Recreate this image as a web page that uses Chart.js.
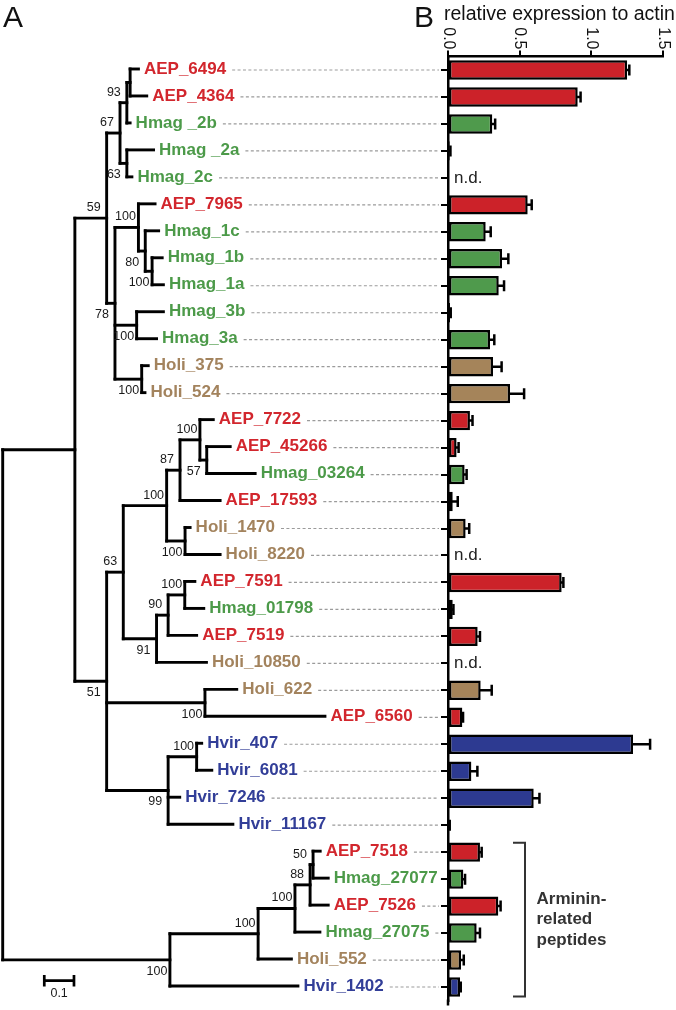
<!DOCTYPE html>
<html><head><meta charset="utf-8">
<script src="https://cdn.jsdelivr.net/npm/chart.js@4.4.1/dist/chart.umd.min.js"></script>
<style>
html,body{margin:0;padding:0;background:#fff;}
#wrap{position:relative;width:676px;height:1010px;overflow:hidden;background:#fff;}
canvas{position:absolute;top:0;}
#tree{left:0;}
#bars{left:400px;}
</style></head><body>
<div id="wrap"><canvas id="tree" width="448" height="1010"></canvas><canvas id="bars" width="276" height="1010"></canvas></div>
<script>
// ---------- DATA ----------
const genes = ["AEP_6494","AEP_4364","Hmag _2b","Hmag _2a","Hmag_2c","AEP_7965","Hmag_1c","Hmag_1b","Hmag_1a",
  "Hmag_3b","Hmag_3a","Holi_375","Holi_524","AEP_7722","AEP_45266","Hmag_03264","AEP_17593","Holi_1470",
  "Holi_8220","AEP_7591","Hmag_01798","AEP_7519","Holi_10850","Holi_622","AEP_6560","Hvir_407","Hvir_6081",
  "Hvir_7246","Hvir_11167","AEP_7518","Hmag_27077","AEP_7526","Hmag_27075","Holi_552","Hvir_1402"];
const expression = [1.25,0.905,0.309,0.012,null,0.556,0.263,0.377,0.354,0.014,0.293,0.314,0.433,0.153,0.06,0.116,0.033,0.123,
  null,0.793,0.033,0.207,null,0.228,0.1,1.291,0.163,0.598,0.008,0.223,0.107,0.351,0.2,0.091,0.084];
const expressionErr = [0.015,0.02,0.02,0.005,null,0.028,0.035,0.044,0.037,0.005,0.03,0.06,0.098,0.018,0.014,0.014,0.035,0.025,
  null,0.012,0.005,0.016,null,0.077,0.005,0.119,0.042,0.04,0.004,0.012,0.012,0.016,0.023,0.019,0.005];
const xTicks = [0, 0.5, 1.0, 1.5];
const scaleBarLength = 0.1;
const bracketGenes = ["AEP_7518","Hvir_1402"];
const bracketText = ["Arminin-","related","peptides"];
// phylogeny (Newick, branch lengths, bootstrap values)
const treeNewick = `(
 (
  (
   (
    (
     (AEP_6494:0.028, AEP_4364:0.056):0.011,
     Hmag _2b:0.011
    )93:0.023,
    (Hmag _2a:0.090, Hmag_2c:0.017)63:0.023
   )67:0.045,
   (
    (AEP_7965:0.056,
     (Hmag_1c:0.045,
      (Hmag_1b:0.034, Hmag_1a:0.038)100:0.023
     )80:0.023
    )100:0.079,
    (Hmag_3b:0.090, Hmag_3a:0.067)100:0.073,
    (Holi_375:0.022, Holi_524:0.011)100:0.090
   )78:0.028
  )59:0.107,
  (
   (
    (
     (
      (AEP_7722:0.045,
       (AEP_45266:0.079, Hmag_03264:0.163)57:0.023
      )100:0.067,
      AEP_17593:0.135
     )87:0.045,
     (Holi_1470:0.017, Holi_8220:0.118)100:0.062
    )100:0.146,
    (
     (
      (AEP_7591:0.034, Hmag_01798:0.064)100:0.056,
      AEP_7519:0.096
     )90:0.039,
     Holi_10850:0.168
    )91:0.112
   )63:0.056,
   (Holi_622:0.107, AEP_6560:0.404)100:0.331,
   (
    (Hvir_407:0.017, Hvir_6081:0.051)100:0.096,
    Hvir_7246:0.039,
    Hvir_11167:0.218
   )99:0.207
  )51:0.107
 ):0.243,
 (
  (
   (
    (
     (AEP_7518:0.024, Hmag_27077:0.051)50:0.010,
     AEP_7526:0.061
    )88:0.051,
    Hmag_27075:0.084
   )100:0.124,
   Holi_552:0.112
  )100:0.297,
  Hvir_1402:0.431
 )100:0.563
);`;

// ---------- STYLE ----------
const FONT = '"Liberation Sans", Arial, Helvetica, sans-serif';
Chart.defaults.font.family = FONT;
const barColors = {AEP:'#cc2229', Hmag:'#4f9a4c', Holi:'#a5845a', Hvir:'#2d3a91'};
const textColors = {AEP:'#d2262d', Hmag:'#4c9a49', Holi:'#a3835d', Hvir:'#323e98'};
const prefix = n => n.split('_')[0].trim();

// ---------- TREE PARSE / LAYOUT ----------
function parseNewick(s){
  let i = 0;
  const ws = () => { while (i < s.length && /\s/.test(s[i])) i++; };
  function node(){
    const n = {children: []};
    ws();
    if (s[i] === '('){
      i++;
      do { n.children.push(node()); ws(); } while (s[i++] === ',');
    }
    let lab = '';
    while (i < s.length && !':,);'.includes(s[i])) lab += s[i++];
    n.label = lab.trim();
    n.len = 0;
    if (s[i] === ':'){
      i++; let num = '';
      while (i < s.length && !',);'.includes(s[i])) num += s[i++];
      n.len = parseFloat(num);
    }
    return n;
  }
  return node();
}
const root = parseNewick(treeNewick);
const leaves = [], internals = [], allNodes = [];
let leafCounter = 0;
(function layout(n, parent, isFirst){
  n.parent = parent; n.first = isFirst;
  n.d = parent ? parent.d + n.len : 0;
  allNodes.push(n);
  if (n.children.length){
    n.children.forEach((c, k) => layout(c, n, k === 0));
    n.row = (n.children[0].row + n.children[n.children.length - 1].row) / 2;
    internals.push(n);
  } else {
    n.row = leafCounter++;
    leaves.push(n);
  }
})(root, null, true);

const lineStyle = {showLine: true, borderColor: '#000', borderWidth: 2.9, pointRadius: 0, fill: false,
  borderJoinStyle: 'miter', borderCapStyle: 'square', tension: 0, clip: false};
const treeDatasets = [
  // vertical connector of each internal node
  ...internals.map(n => Object.assign({
    data: [{x: n.d, y: n.children[0].row}, {x: n.d, y: n.children[n.children.length - 1].row}]
  }, lineStyle)),
  // elbow branch to each node
  ...allNodes.filter(n => n.parent).map(n => Object.assign({
    data: [{x: n.parent.d, y: n.row}, {x: n.d, y: n.row}]
  }, lineStyle))
];

const treePlugin = {
  id: 'treeLabels',
  afterDatasetsDraw(chart){
    const ctx = chart.ctx, xs = chart.scales.x, ys = chart.scales.y;
    ctx.save();
    // leaf labels + leaders
    leaves.forEach(l => {
      const px = xs.getPixelForValue(l.d) + 5.5, py = ys.getPixelForValue(l.row);
      ctx.font = 'bold 17px ' + FONT;
      ctx.fillStyle = textColors[prefix(l.label)];
      ctx.textAlign = 'left'; ctx.textBaseline = 'middle';
      ctx.fillText(l.label, px, py);
      const w = ctx.measureText(l.label).width;
      ctx.beginPath();
      ctx.setLineDash([3, 2.4]);
      ctx.strokeStyle = '#9b9b9b'; ctx.lineWidth = 1.2;
      ctx.moveTo(px + w + 6, py + 1); ctx.lineTo(chart.width - 9, py + 1);
      ctx.stroke();
      ctx.setLineDash([]);
    });
    // bootstrap values
    ctx.font = '12.5px ' + FONT; ctx.fillStyle = '#1a1a1a'; ctx.textAlign = 'center'; ctx.textBaseline = 'middle';
    internals.forEach(n => {
      if (!n.label) return;
      const px = xs.getPixelForValue(n.d) - 13, py = ys.getPixelForValue(n.row) + (n.first ? -10.5 : 11.5);
      ctx.fillText(n.label, px, py);
    });
    // scale bar
    const x0 = xs.getPixelForValue(0.14), x1 = xs.getPixelForValue(0.14 + scaleBarLength), sy = 980.7;
    ctx.strokeStyle = '#000'; ctx.lineWidth = 2.7;
    ctx.beginPath();
    ctx.moveTo(x0, sy); ctx.lineTo(x1, sy);
    ctx.moveTo(x0, sy - 5.8); ctx.lineTo(x0, sy + 5.8);
    ctx.moveTo(x1, sy - 5.8); ctx.lineTo(x1, sy + 5.8);
    ctx.stroke();
    ctx.fillStyle = '#1a1a1a'; ctx.font = '12.5px ' + FONT; ctx.textAlign = 'center';
    ctx.fillText(String(scaleBarLength), (x0 + x1) / 2, 994);
    // panel letter
    ctx.font = '30px ' + FONT; ctx.textAlign = 'left'; ctx.textBaseline = 'alphabetic'; ctx.fillStyle = '#111';
    ctx.fillText('A', 3, 27);
    ctx.restore();
  }
};

new Chart(document.getElementById('tree'), {
  type: 'scatter',
  data: {datasets: treeDatasets},
  options: {
    responsive: false, animation: false, events: [],
    layout: {padding: {top: 55.5, bottom: 10.5, left: 0, right: 0}},
    plugins: {legend: {display: false}, tooltip: {enabled: false}},
    scales: {
      x: {type: 'linear', display: false, min: -0.0091, max: 1.4993},
      y: {type: 'linear', display: false, reverse: true, min: -0.5, max: 34.5}
    }
  },
  plugins: [treePlugin]
});

// ---------- BAR CHART ----------
const barPlugin = {
  id: 'barExtras',
  afterDatasetsDraw(chart){
    const ctx = chart.ctx, xs = chart.scales.x, ys = chart.scales.y, ca = chart.chartArea;
    ctx.save();
    // axis line continues slightly below the last row
    ctx.strokeStyle = '#000'; ctx.lineWidth = 2.5;
    ctx.beginPath(); ctx.moveTo(ca.left, ca.bottom - 1); ctx.lineTo(ca.left, ca.bottom + 5); ctx.stroke();
    // error bars and n.d.
    genes.forEach((g, i) => {
      const py = ys.getPixelForValue(i);
      const v = expression[i], e = expressionErr[i];
      if (v === null){
        ctx.font = '17px ' + FONT; ctx.fillStyle = '#222'; ctx.textAlign = 'left'; ctx.textBaseline = 'middle';
        ctx.fillText('n.d.', ca.left + 6, py);
        return;
      }
      const a = xs.getPixelForValue(v), b = xs.getPixelForValue(v + e);
      ctx.strokeStyle = '#000'; ctx.lineWidth = 2.5;
      ctx.beginPath();
      ctx.moveTo(a - 1, py); ctx.lineTo(b, py);
      ctx.moveTo(b, py - 5.5); ctx.lineTo(b, py + 5.5);
      ctx.stroke();
    });
    // rotated tick labels
    ctx.font = '16px ' + FONT; ctx.fillStyle = '#111';
    xTicks.forEach(t => {
      const px = xs.getPixelForValue(t);
      ctx.save();
      ctx.translate(px, ca.top - 7);
      ctx.rotate(Math.PI / 2);
      ctx.textAlign = 'right'; ctx.textBaseline = 'middle';
      ctx.fillText(t.toFixed(1), 0, 0);
      ctx.restore();
    });
    // panel letter + axis title
    ctx.textAlign = 'left'; ctx.textBaseline = 'alphabetic';
    ctx.font = '30px ' + FONT; ctx.fillStyle = '#111';
    ctx.fillText('B', ca.left - 34, 27);
    ctx.font = '19.5px ' + FONT;
    ctx.fillText('relative expression to actin', ca.left - 4, 20);
    // bracket
    const r0 = genes.indexOf(bracketGenes[0]), r1 = genes.indexOf(bracketGenes[1]);
    const bt = ys.getPixelForValue(r0) - 9.5, bb = ys.getPixelForValue(r1) + 9.5;
    const bx = ca.left + 77;
    ctx.strokeStyle = '#333'; ctx.lineWidth = 2;
    ctx.beginPath();
    ctx.moveTo(bx - 12, bt); ctx.lineTo(bx, bt); ctx.lineTo(bx, bb); ctx.lineTo(bx - 12, bb);
    ctx.stroke();
    ctx.font = 'bold 17px ' + FONT; ctx.fillStyle = '#333'; ctx.textBaseline = 'middle';
    const mid = (bt + bb) / 2;
    bracketText.forEach((t, k) => ctx.fillText(t, bx + 11.5, mid + (k - 1) * 20.7));
    ctx.restore();
  }
};

new Chart(document.getElementById('bars'), {
  type: 'bar',
  data: {
    labels: genes,
    datasets: [{
      data: expression,
      backgroundColor: genes.map(g => barColors[prefix(g)]),
      borderColor: '#000', borderWidth: 2.5, borderSkipped: false,
      categoryPercentage: 1, barPercentage: 0.72
    }]
  },
  options: {
    indexAxis: 'y', responsive: false, animation: false, events: [],
    layout: {padding: {top: 0, bottom: 9.5, left: 0, right: 13}},
    plugins: {legend: {display: false}, tooltip: {enabled: false}},
    scales: {
      x: {
        position: 'top', min: 0, max: 1.5,
        ticks: {display: false, stepSize: 0.5},
        grid: {drawOnChartArea: false, drawTicks: true, tickLength: 6, color: '#000', lineWidth: 2},
        border: {display: true, color: '#000', width: 2.5},
        afterFit(s){ s.height = 56.5; }
      },
      y: {
        ticks: {display: false},
        grid: {drawOnChartArea: false, drawTicks: true, tickLength: 7, color: '#000', lineWidth: 2, offset: false},
        border: {display: true, color: '#000', width: 2.5},
        afterFit(s){ s.width = 48; }
      }
    }
  },
  plugins: [barPlugin]
});
</script>
</body></html>
